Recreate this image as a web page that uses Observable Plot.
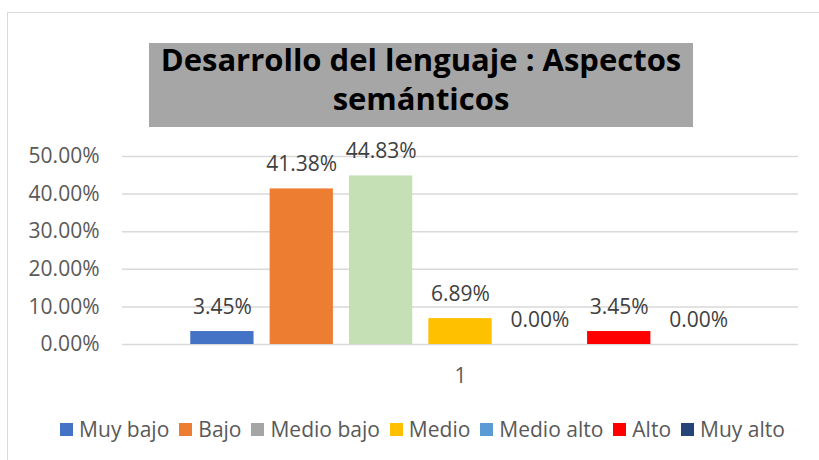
<!DOCTYPE html>
<html><head><meta charset="utf-8">
<script src="https://cdn.jsdelivr.net/npm/d3@7"></script>
<script src="https://cdn.jsdelivr.net/npm/@observablehq/plot@0.6"></script>
<style>
body{margin:0;background:#fff;font-family:"Open Sans",sans-serif;}
#wrap{position:relative;width:819px;height:460px;overflow:hidden;background:#fff;}
#frame{position:absolute;left:7px;top:12px;width:830px;height:470px;border:1.5px solid #d9d9d9;box-sizing:border-box;}
#titlebox{position:absolute;left:149px;top:43px;width:544px;height:84px;background:#a6a6a6;}
#title{position:absolute;left:149px;top:40px;width:544px;color:#000;font-weight:bold;font-size:31px;line-height:39px;text-align:center;white-space:nowrap;}
#chart{position:absolute;left:0;top:120px;}
#legend{position:absolute;left:13px;top:415px;width:819px;display:flex;justify-content:center;font-size:21px;color:#595959;}
.item{display:flex;align-items:center;margin:0 5px;}
.sw{width:13px;height:13px;margin-right:6px;}
</style></head>
<body><div id="wrap"><div id="frame"></div><div id="titlebox"></div><div id="title">Desarrollo del lenguaje : Aspectos<br>semánticos</div><div id="chart"></div><div id="legend"></div></div>
<script>
const categories = ["Muy bajo","Bajo","Medio bajo","Medio","Medio alto","Alto","Muy alto"];
const values = [0.0345, 0.4138, 0.4483, 0.0689, 0.0, 0.0345, 0.0];
const groups = ["1","1","1","1","1","1","1"];
const barColors = ["#4472c4","#ed7d31","#c5e0b4","#ffc000","#5b9bd5","#ff0000","#264478"];
const legendColors = ["#4472c4","#ed7d31","#a5a5a5","#ffc000","#5b9bd5","#ff0000","#264478"];
const yTicks = [0, 0.1, 0.2, 0.3, 0.4, 0.5];

const data = categories.map((c,i)=>({cat:c, v:values[i], g:groups[i]}));
const fmt = d3.format(".2%");

const chart = Plot.plot({
  width: 819, height: 280,
  marginLeft: 122, marginRight: 21, marginTop: 36, marginBottom: 56,
  style: {fontFamily: "Open Sans", fontSize: "21px", color: "#595959", background: "transparent", overflow: "visible"},
  fx: {domain: ["1"], padding: 0, label: null, axis: "bottom", tickSize: 0, tickPadding: 24},
  x: {domain: categories, paddingInner: 0.2025, paddingOuter: 0.86, round: false, axis: null},
  y: {domain: [0, 0.5], ticks: yTicks, tickFormat: fmt, tickSize: 0, tickPadding: 23, label: null},
  color: {domain: categories, range: barColors},
  marks: [
    Plot.gridY(yTicks, {stroke: "#d9d9d9", strokeOpacity: 1, strokeWidth: 1.5}),
    Plot.barY(data, {fx: "g", x: "cat", y: "v", fill: "cat"}),
    Plot.text(data, {fx: "g", x: "cat", y: "v", text: d => fmt(d.v), lineAnchor: "bottom", dy: -18, fontSize: 21, fill: "#404040"})
  ]
});
document.getElementById("chart").appendChild(chart);

const leg = document.getElementById("legend");
categories.forEach((c,i)=>{
  const it = document.createElement("div"); it.className="item";
  const sw = document.createElement("div"); sw.className="sw"; sw.style.background=legendColors[i];
  const t = document.createElement("span"); t.textContent=c;
  it.appendChild(sw); it.appendChild(t); leg.appendChild(it);
});
</script></body></html>
